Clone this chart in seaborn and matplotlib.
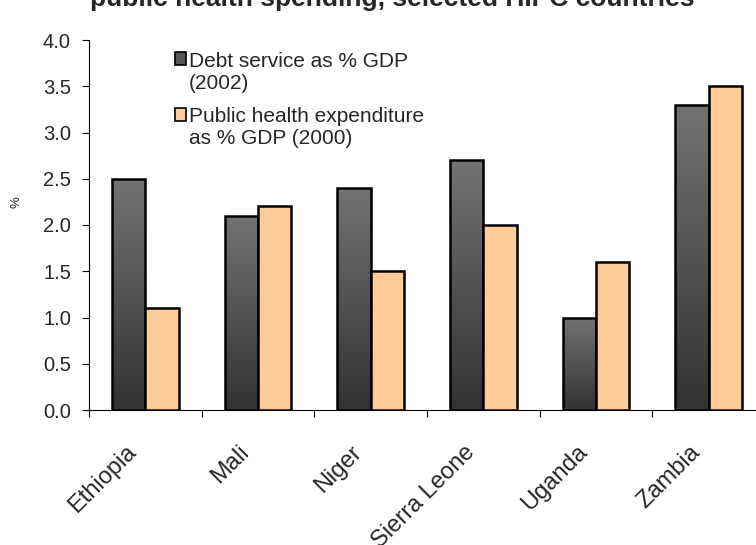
import numpy as np
import pandas as pd
import matplotlib
matplotlib.use("Agg")
import matplotlib.pyplot as plt
import seaborn as sns
from matplotlib.patches import Patch, Rectangle
from matplotlib.legend_handler import HandlerBase
import matplotlib.transforms as mtransforms

countries = ["Ethiopia", "Mali", "Niger", "Sierra Leone", "Uganda", "Zambia"]
debt_service = [2.5, 2.1, 2.4, 2.7, 1.0, 3.3]
health_exp = [1.1, 2.2, 1.5, 2.0, 1.6, 3.5]
series_names = ["Debt service as % GDP\n(2002)", "Public health expenditure\nas % GDP (2000)"]
yticks = [0.0, 0.5, 1.0, 1.5, 2.0, 2.5, 3.0, 3.5, 4.0]
title = "public health spending, selected HIPC countries"

df = pd.DataFrame({
    "country": countries * 2,
    "value": debt_service + health_exp,
    "series": [series_names[0]] * len(countries) + [series_names[1]] * len(countries),
})

sns.set_style("white")
plt.rcParams["font.family"] = ["Liberation Sans", "DejaVu Sans"]

fig = plt.figure(figsize=(7.56, 5.45), dpi=100)
ax = fig.add_axes([89 / 756, (545 - 410) / 545, 676 / 756, 370 / 545])

peach = "#FFCC99"
sns.barplot(data=df, x="country", y="value", hue="series", order=countries,
            hue_order=series_names, palette=["#555555", peach], width=0.59,
            gap=0, edgecolor="black", linewidth=1.8, saturation=1, ax=ax,
            legend=False)

# gradient fill on the dark bars
grad = np.linspace(0, 1, 256).reshape(-1, 1)
cmap = matplotlib.colors.LinearSegmentedColormap.from_list("g", ["#323232", "#737373"])
n = len(countries)
for i, p in enumerate(ax.patches[:n]):
    x0, w, h = p.get_x(), p.get_width(), p.get_height()
    p.set_facecolor("none")
    p.set_zorder(3)
    im = ax.imshow(grad, cmap=cmap, origin="lower", aspect="auto",
                   extent=[x0, x0 + w, 0, h], zorder=2)
    im.set_clip_path(p)
for p in ax.patches[n:]:
    p.set_zorder(3)

ax.set_xlim(-0.5, n - 0.5)
ax.set_ylim(0, 4.0)
ax.set_yticks(yticks)
ax.set_yticklabels([f"{v:.1f}" for v in yticks], fontsize=14.5)
ax.set_xticks(np.arange(-0.5, n, 1.0))
ax.set_xticklabels([])
ax.set_xticks(np.arange(n), minor=True)
ax.set_xticklabels(countries, minor=True, rotation=45, ha="right", va="center",
                   rotation_mode="anchor", fontsize=17)
ax.tick_params(axis="x", which="minor", length=0, pad=28)
ax.tick_params(axis="y", which="major", pad=8)
ax.tick_params(axis="both", which="major", length=5, width=0.8, color="black",
               direction="out", bottom=True, left=True)
# small leftward shift of category labels
offset = mtransforms.ScaledTranslation(-12 / 100, 0, fig.dpi_scale_trans)
for lab in ax.get_xticklabels(minor=True):
    lab.set_transform(lab.get_transform() + offset)
ax.set_xlabel("")
ax.set_ylabel("")
fig.text(17 / 756, 1 - 202 / 545, "%", rotation=90, ha="center", va="center", fontsize=9.5)
for s in ["top", "right"]:
    ax.spines[s].set_visible(False)
for s in ["left", "bottom"]:
    ax.spines[s].set_color("black")
    ax.spines[s].set_linewidth(0.8)


class TopSquare(HandlerBase):
    def create_artists(self, legend, orig_handle, xdescent, ydescent, width,
                       height, fontsize, trans):
        shift = 0.55 * fontsize * 1.2
        r = Rectangle((-xdescent, -ydescent + shift), width, height,
                      facecolor=orig_handle.get_facecolor(),
                      edgecolor="black", linewidth=1.2, transform=trans)
        return [r]


handles = [Patch(facecolor="#555555", edgecolor="black"),
           Patch(facecolor=peach, edgecolor="black")]
ax.legend(handles, series_names, loc="upper left", bbox_to_anchor=(0.127, 0.968),
          frameon=False, fontsize=15, handlelength=0.55, handleheight=0.55,
          handletextpad=0.12, labelspacing=0.7, borderaxespad=0, borderpad=0,
          handler_map={Patch: TopSquare()})

fig.text(392 / 756, 1 - 6 / 545, title, ha="center", va="baseline",
         fontsize=19, fontweight="bold")

fig.savefig("out.png", dpi=100)
